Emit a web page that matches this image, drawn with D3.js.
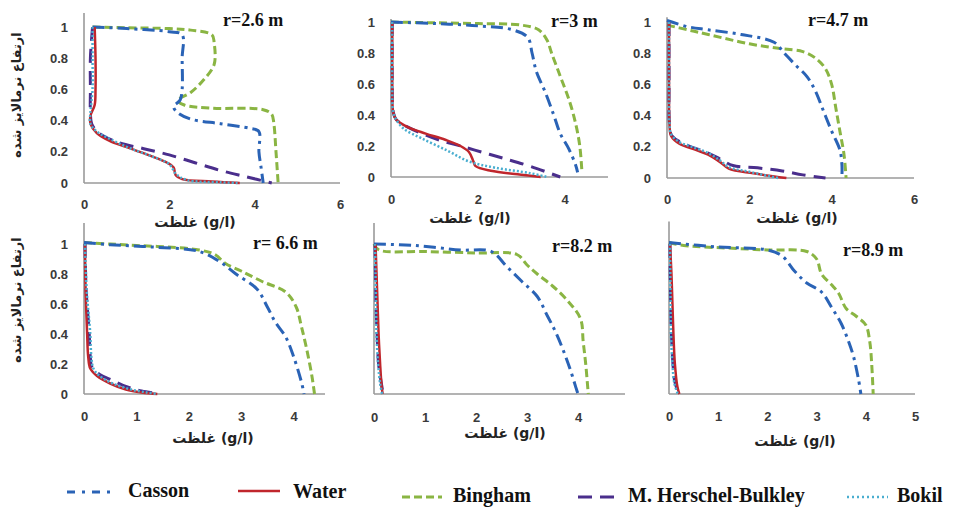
<!DOCTYPE html>
<html>
<head>
<meta charset="utf-8">
<script src="https://cdn.jsdelivr.net/npm/d3@7"></script>
<style>
  body { margin: 0; background: #fff; }
  svg { display: block; }
  .tick text { font-family: 'Liberation Sans', Arial, sans-serif; font-weight: bold; font-size: 13px; fill: #3a3a3a; }
  .ptitle { font-family: 'Liberation Serif', 'Times New Roman', serif; font-weight: bold; font-size: 18px; fill: #111; }
  .fa { font-family: 'DejaVu Sans', sans-serif; font-weight: bold; font-size: 14px; fill: #222; }
  .fa-y { font-size: 13px; }
  .leg { font-family: 'Liberation Serif', 'Times New Roman', serif; font-weight: bold; font-size: 20px; fill: #111; }
</style>
</head>
<body>
<svg width="953" height="507"></svg>
<script>
// chart values
const panelTitles = ['r=2.6 m', 'r=3 m', 'r=4.7 m', 'r= 6.6 m', 'r=8.2 m', 'r=8.9 m']
const seriesNames = ['Casson', 'Water', 'Bingham', 'M. Herschel-Bulkley', 'Bokil']
const xTickValues = [[0, 2, 4, 6], [0, 2, 4], [0, 2, 4, 6], [0, 1, 2, 3, 4], [0, 1, 2, 3, 4], [0, 1, 2, 3, 4, 5]]
const yTickValues = [0, 0.2, 0.4, 0.6, 0.8, 1]
const xLabel = 'غلظت (g/l)'
const yLabel = 'ارتفاع نرمالایز شده'

// [concentration, normalised height] per panel
const cassonData = [
  [[0.2,1],[1.0,0.99],[2.0,0.97],[2.3,0.95],[2.3,0.8],[2.3,0.6],[2.25,0.53],[2.1,0.49],[2.2,0.45],[2.5,0.41],[3.2,0.38],[3.9,0.35],[4.1,0.33],[4.1,0.2],[4.15,0.1],[4.2,0]],
  [[0,1],[1,0.99],[2,0.975],[2.8,0.95],[3.15,0.9],[3.25,0.8],[3.35,0.68],[3.55,0.55],[3.75,0.4],[3.9,0.28],[4.1,0.18],[4.25,0.08],[4.3,0.03]],
  [[0,1.01],[0.5,0.97],[1.0,0.95],[1.8,0.92],[2.6,0.87],[2.85,0.8],[3.1,0.73],[3.4,0.65],[3.6,0.56],[3.8,0.43],[4.0,0.3],[4.2,0.18],[4.25,0.08],[4.25,0.02]],
  [[0,1.01],[0.5,0.995],[1.3,0.98],[2.2,0.95],[2.6,0.88],[2.9,0.8],[3.3,0.7],[3.5,0.58],[3.65,0.48],[3.85,0.38],[4.0,0.25],[4.15,0.08],[4.2,0]],
  [[0,1],[0.8,0.99],[1.7,0.96],[2.3,0.95],[2.6,0.85],[2.9,0.75],[3.2,0.65],[3.4,0.52],[3.55,0.42],[3.7,0.3],[3.85,0.16],[3.97,0.03],[4.0,0]],
  [[0,1.01],[1,0.98],[2,0.96],[2.3,0.92],[2.55,0.82],[2.8,0.74],[3.1,0.68],[3.3,0.58],[3.5,0.47],[3.65,0.35],[3.75,0.25],[3.85,0.1],[3.9,0]]
]
const waterData = [
  [[0.25,1],[0.27,0.8],[0.27,0.6],[0.25,0.5],[0.15,0.43],[0.15,0.38],[0.3,0.32],[0.6,0.27],[1.0,0.23],[1.5,0.18],[1.95,0.13],[2.1,0.1],[2.15,0.05],[2.3,0.025],[3.0,0.01],[3.65,0]],
  [[0.03,1],[0.03,0.8],[0.03,0.6],[0.05,0.42],[0.12,0.37],[0.4,0.32],[0.8,0.28],[1.25,0.24],[1.6,0.2],[1.8,0.16],[1.9,0.1],[1.95,0.07],[2.3,0.04],[3.0,0.015],[3.45,0]],
  [[0.05,1],[0.05,0.6],[0.06,0.35],[0.1,0.27],[0.3,0.22],[0.7,0.18],[1.0,0.15],[1.3,0.1],[1.5,0.06],[2.1,0.03],[2.9,0]],
  [[0.02,1],[0.03,0.7],[0.06,0.4],[0.08,0.25],[0.12,0.17],[0.25,0.12],[0.5,0.07],[0.8,0.03],[1.1,0.01],[1.4,0]],
  [[0.03,1],[0.05,0.8],[0.07,0.6],[0.09,0.4],[0.12,0.2],[0.15,0.05],[0.17,0]],
  [[0.02,1],[0.05,0.8],[0.07,0.6],[0.09,0.4],[0.12,0.2],[0.17,0.05],[0.21,0]]
]
const binghamData = [
  [[0.2,1],[1,0.995],[2,0.99],[2.5,0.98],[3.0,0.95],[3.05,0.9],[3.05,0.76],[2.8,0.66],[2.5,0.58],[2.2,0.53],[2.35,0.5],[3.0,0.48],[4.2,0.47],[4.4,0.44],[4.45,0.38],[4.5,0.2],[4.55,0]],
  [[0,1],[1,0.995],[2,0.99],[3,0.98],[3.4,0.95],[3.6,0.88],[3.7,0.8],[3.9,0.65],[4.1,0.5],[4.25,0.35],[4.35,0.2],[4.4,0.03]],
  [[0,0.98],[0.5,0.95],[1,0.92],[2,0.86],[2.75,0.83],[3.3,0.81],[3.6,0.77],[3.85,0.7],[4.0,0.6],[4.1,0.45],[4.2,0.3],[4.3,0.15],[4.35,0]],
  [[0,1.01],[0.5,1.0],[1.0,0.99],[1.6,0.98],[2.2,0.96],[2.5,0.93],[2.7,0.87],[3.0,0.82],[3.4,0.75],[3.85,0.68],[4.05,0.58],[4.15,0.45],[4.25,0.3],[4.35,0.12],[4.4,0]],
  [[0,1.0],[0.1,0.96],[1,0.95],[2,0.94],[2.8,0.93],[3.0,0.86],[3.2,0.8],[3.5,0.72],[3.8,0.62],[4.05,0.5],[4.1,0.35],[4.15,0.2],[4.2,0]],
  [[0,1.01],[0.3,0.99],[1.4,0.97],[2.0,0.96],[2.8,0.95],[3.0,0.9],[3.1,0.8],[3.3,0.73],[3.45,0.67],[3.6,0.57],[3.8,0.52],[4.0,0.46],[4.08,0.35],[4.12,0.2],[4.15,0]]
]
const herschelData = [
  [[0.2,1],[0.15,0.8],[0.15,0.6],[0.15,0.45],[0.18,0.38],[0.35,0.32],[0.8,0.26],[1.4,0.22],[2.0,0.18],[2.6,0.13],[3.2,0.08],[3.8,0.04],[4.4,0]],
  [[0.03,1],[0.03,0.6],[0.05,0.42],[0.12,0.37],[0.4,0.32],[0.8,0.27],[1.2,0.23],[1.6,0.2],[2.1,0.16],[2.6,0.12],[3.2,0.07],[3.9,0]],
  [[0.05,1],[0.05,0.6],[0.06,0.35],[0.12,0.27],[0.5,0.21],[1.0,0.16],[1.3,0.12],[1.6,0.08],[2.2,0.065],[2.8,0.045],[3.3,0.02],[3.85,0]],
  [[0.02,1],[0.04,0.7],[0.1,0.4],[0.12,0.25],[0.15,0.18],[0.3,0.13],[0.55,0.09],[0.8,0.05],[1.1,0.02],[1.45,0]],
  [[0.02,1],[0.03,0.8],[0.04,0.6],[0.06,0.4],[0.09,0.2],[0.14,0.08],[0.18,0]],
  [[0.02,1],[0.03,0.7],[0.05,0.4],[0.08,0.2],[0.12,0.08],[0.2,0]]
]
const bokilData = [
  [[0.2,1],[0.2,0.8],[0.2,0.6],[0.15,0.45],[0.15,0.38],[0.3,0.33],[0.7,0.27],[1.1,0.22],[1.6,0.17],[2.0,0.12],[2.15,0.06],[2.4,0.02],[3.2,0.005],[3.6,0]],
  [[0.03,1],[0.03,0.6],[0.05,0.42],[0.12,0.37],[0.3,0.31],[0.7,0.25],[1.3,0.17],[1.8,0.1],[2.4,0.06],[3.2,0.025],[3.6,0]],
  [[0.05,1],[0.05,0.6],[0.06,0.35],[0.1,0.28],[0.3,0.23],[0.6,0.2],[1.0,0.16],[1.3,0.11],[1.5,0.07],[2.0,0.04],[2.7,0]],
  [[0.02,1],[0.05,0.7],[0.12,0.4],[0.14,0.25],[0.18,0.17],[0.3,0.12],[0.55,0.07],[0.9,0.03],[1.2,0.01],[1.4,0]],
  [[0.02,1],[0.03,0.8],[0.04,0.6],[0.05,0.4],[0.08,0.2],[0.12,0.07],[0.16,0]],
  [[0.02,1],[0.03,0.7],[0.04,0.4],[0.07,0.2],[0.11,0.07],[0.18,0]]
]

// page layout of the six panels (pixels)
const layout = [
  {x0: 84,  x1: 340, xMax: 6,    y0: 183, y1: 27,  yTop: 1.09, tickY: 210, showY: true,  yTitle: 95,   tx: 223, ty: 26,  lx: 195, ly: 227},
  {x0: 391, x1: 608, xMax: 5,    y0: 177, y1: 22,  yTop: 1.02, tickY: 205, showY: true,  yTitle: null, tx: 551, ty: 27,  lx: 470, ly: 223},
  {x0: 667, x1: 914, xMax: 6,    y0: 178, y1: 22,  yTop: 1.03, tickY: 205, showY: true,  yTitle: null, tx: 808, ty: 26,  lx: 797, ly: 223},
  {x0: 84,  x1: 325, xMax: 4.6,  y0: 394, y1: 244, yTop: 1.14, tickY: 422, showY: true,  yTitle: 300,  tx: 253, ty: 249, lx: 213, ly: 443},
  {x0: 374, x1: 625, xMax: 4.92, y0: 394, y1: 244, yTop: 1.14, tickY: 423, showY: false, yTitle: null, tx: 552, ty: 252, lx: 505, ly: 438},
  {x0: 669, x1: 915, xMax: 5,    y0: 394, y1: 244, yTop: 1.15, tickY: 422, showY: false, yTitle: null, tx: 843, ty: 256, lx: 795, ly: 446}
]

const seriesStyle = {
  'Casson':              {color: '#2a63b6', width: 3,   dash: '12,5,3,5', legendDash: '8,7,3,7', data: cassonData},
  'Water':               {color: '#c0262c', width: 2.5, dash: null,       legendDash: null,      data: waterData},
  'Bingham':             {color: '#8ab543', width: 3,   dash: '8,4',      legendDash: '8,4',     data: binghamData},
  'M. Herschel-Bulkley': {color: '#4a2e8c', width: 3,   dash: '14,8',     legendDash: '14,8',    data: herschelData},
  'Bokil':               {color: '#4aaed0', width: 2.5, dash: '2,2',      legendDash: '2,3',     data: bokilData}
}
const drawOrder = ['Bingham', 'Casson', 'M. Herschel-Bulkley', 'Water', 'Bokil']

const legendPos = [
  {mx0: 67,  mx1: 115, my: 492, tx: 128, ty: 497},
  {mx0: 238, mx1: 280, my: 491, tx: 293, ty: 498},
  {mx0: 402, mx1: 442, my: 497, tx: 453, ty: 502},
  {mx0: 578, mx1: 618, my: 497, tx: 628, ty: 502},
  {mx0: 847, mx1: 888, my: 497, tx: 897, ty: 502}
]

const svg = d3.select('svg')
svg.append('rect').attr('width', 953).attr('height', 507).attr('fill', '#fff')

const drawPanel = (p, i) => {
  const x = d3.scaleLinear().domain([0, p.xMax]).range([p.x0, p.x1])
  const y = d3.scaleLinear().domain([0, 1]).range([p.y0, p.y1])
  const g = svg.append('g')

  const xAxis = d3.axisBottom(x)
    .tickValues(xTickValues[i])
    .tickSize(0)
    .tickPadding(p.tickY - p.y0 - 10)
    .tickFormat(d3.format('d'))
  g.append('g')
    .attr('transform', 'translate(0,' + y(0) + ')')
    .call(xAxis)
    .call(a => a.select('.domain').remove())

  if (p.showY) {
    const yAxis = d3.axisLeft(y)
      .tickValues(yTickValues)
      .tickSize(0)
      .tickPadding(16)
      .tickFormat(d => d === 0 || d === 1 ? String(d) : d3.format('.1f')(d))
    g.append('g')
      .attr('transform', 'translate(' + x(0) + ',0)')
      .call(yAxis)
      .call(a => a.select('.domain').remove())
  }

  // axis lines
  g.append('line')
    .attr('x1', x(0)).attr('x2', x(p.xMax))
    .attr('y1', y(0)).attr('y2', y(0))
    .attr('stroke', '#9a9a9a').attr('stroke-width', 1.6)
  g.append('line')
    .attr('x1', x(0)).attr('x2', x(0))
    .attr('y1', y(0)).attr('y2', y(p.yTop))
    .attr('stroke', '#9a9a9a').attr('stroke-width', 1.6)

  const line = d3.line()
    .x(d => x(d[0]))
    .y(d => y(d[1]))
    .curve(d3.curveCatmullRom.alpha(0.5))

  drawOrder.forEach(name => {
    const s = seriesStyle[name]
    g.append('path')
      .attr('d', line(s.data[i]))
      .attr('fill', 'none')
      .attr('stroke', s.color)
      .attr('stroke-width', s.width)
      .attr('stroke-dasharray', s.dash)
      .attr('stroke-linejoin', 'round')
  })

  g.append('text').attr('class', 'ptitle')
    .attr('x', p.tx).attr('y', p.ty)
    .text(panelTitles[i])

  g.append('text').attr('class', 'fa')
    .attr('x', p.lx).attr('y', p.ly)
    .attr('text-anchor', 'middle')
    .attr('direction', 'ltr')
    .text(xLabel)

  if (p.yTitle !== null) {
    g.append('text').attr('class', 'fa fa-y')
      .attr('transform', 'translate(21,' + p.yTitle + ') rotate(-90)')
      .attr('text-anchor', 'middle')
      .text(yLabel)
  }
}

layout.forEach(drawPanel)

// legend
const legend = svg.append('g')
seriesNames.forEach((name, i) => {
  const s = seriesStyle[name]
  const lp = legendPos[i]
  legend.append('line')
    .attr('x1', lp.mx0).attr('x2', lp.mx1)
    .attr('y1', lp.my).attr('y2', lp.my)
    .attr('stroke', s.color)
    .attr('stroke-width', s.width)
    .attr('stroke-dasharray', s.legendDash)
  legend.append('text').attr('class', 'leg')
    .attr('x', lp.tx).attr('y', lp.ty)
    .text(name)
})
</script>
</body>
</html>
